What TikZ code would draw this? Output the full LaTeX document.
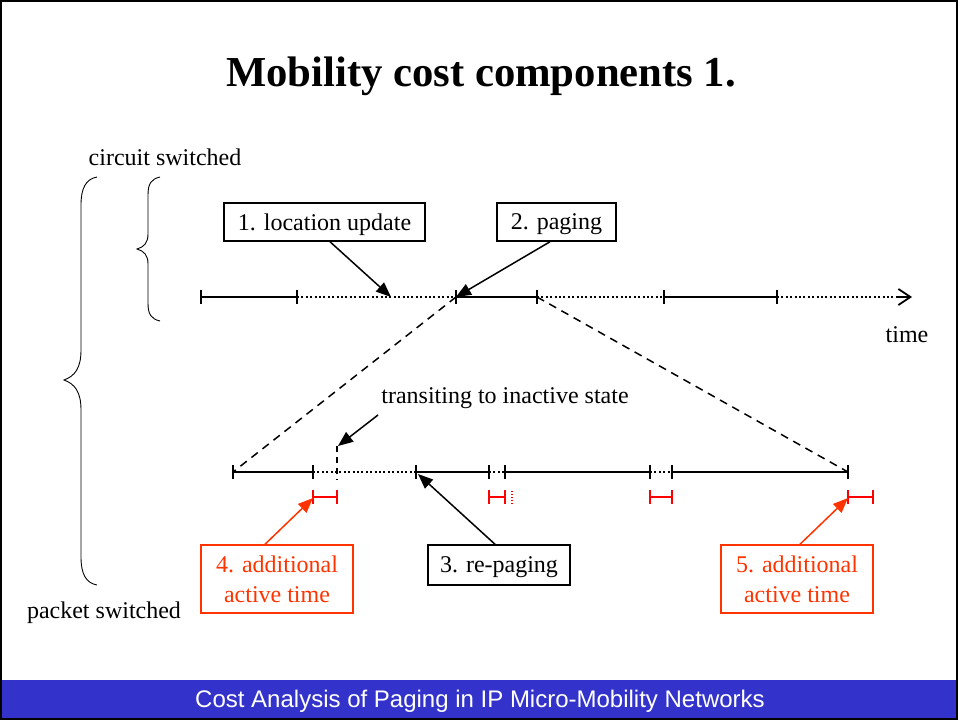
\documentclass[tikz,border=0pt]{standalone}
\usepackage{fontspec}
\setmainfont{Liberation Serif}
\newfontfamily\footfont{Liberation Sans}
\usetikzlibrary{arrows.meta}

\definecolor{barblue}{HTML}{3333CC}
\definecolor{notered}{HTML}{FF3300}
\definecolor{segred}{HTML}{FF0000}

\begin{document}
\begin{tikzpicture}[x=1pt,y=-1pt,
  every node/.style={font=\fontsize{24}{28}\selectfont, inner sep=0pt},
  seg/.style={line width=1.8pt},
  dotseg/.style={line width=1.8pt, dash pattern=on 2pt off 2.4pt},
  tickmark/.style={line width=1.8pt},
  zoomline/.style={line width=1.5pt, dash pattern=on 8pt off 6pt},
  callout/.style={draw, line width=1.5pt, align=center, text depth=0pt},
  pointer/.style={line width=1.5pt, -{Triangle[length=15pt,width=12pt]}},
  brace/.style={line width=0.9pt}
]
\useasboundingbox (0,0) rectangle (958,720);

% page frame and footer bar
\fill[barblue] (0,680) rectangle (958,720);
\draw[line width=2pt] (1,1) rectangle (957,719);
\node[text=white, font=\footfont\fontsize{24}{28}\selectfont] (footer) at (480,701)
  {Cost Analysis of Paging in IP Micro-Mobility Networks};

% title
\node[font=\fontsize{42.7}{48}\selectfont\bfseries] (title) at (481,76) {Mobility cost components 1.};

% side labels and braces
\node (cs) at (165,157) {circuit switched};
\node (ps) at (104,613) {packet switched};
\draw[brace] (160,177) .. controls (151,179) and (148,184) .. (148,195)
  -- (148,234) .. controls (148,243) and (144,247) .. (137,249)
  .. controls (144,251) and (148,255) .. (148,264)
  -- (148,303) .. controls (148,314) and (151,319) .. (160,321);
\draw[brace] (97,177) .. controls (86,179) and (81,188) .. (81,205)
  -- (81,350) .. controls (81,368) and (75,376) .. (64,380)
  .. controls (75,384) and (81,392) .. (81,410)
  -- (81,557) .. controls (81,574) and (86,583) .. (97,585);

% circuit-switched time line
\foreach \n/\x in {1/201,2/297,3/456,4/537,5/664,6/777}
  \coordinate (A\n) at (\x,297);
\coordinate (Aend) at (912,297);
\draw[seg] (A1) -- (A2);
\draw[dotseg] (A2) -- (A3);
\draw[seg] (A3) -- (A4);
\draw[dotseg] (A4) -- (A5);
\draw[seg] (A5) -- (A6);
\draw[dotseg] (A6) -- (Aend);
\draw[line width=1.8pt, -{Straight Barb[length=12pt,width=16pt]}] ([xshift=-14pt]Aend) -- (Aend);
\foreach \n in {1,...,6}
  \draw[tickmark] ([yshift=-7pt]A\n) -- ([yshift=7pt]A\n);
\node (time) at (907,335) {time};

% labels on the circuit-switched line
\node[callout, minimum width=201pt, minimum height=38pt] (lu) at (324.5,222) {1. location update};
\node[callout, minimum width=119pt, minimum height=38pt] (pg) at (556.5,222) {2. paging};
\coordinate (luhit) at (391,297);
\draw[pointer] ([xshift=5.5pt]lu.south) -- (luhit);
\draw[pointer] ([xshift=-6.5pt]pg.south) -- (A3);

% packet-switched time line
\foreach \n/\x in {1/233,2/313,3/416,4/489,5/505,6/650,7/672,8/848}
  \coordinate (B\n) at (\x,472);
\draw[zoomline] (A3) -- (B1);
\draw[zoomline] (A4) -- (B8);
\draw[seg] (B1) -- (B2);
\draw[dotseg] (B2) -- (B3);
\draw[seg] (B3) -- (B4);
\draw[dotseg] (B4) -- (B5);
\draw[seg] (B5) -- (B6);
\draw[dotseg] (B6) -- (B7);
\draw[seg] (B7) -- (B8);
\foreach \n in {1,...,8}
  \draw[tickmark] ([yshift=-7pt]B\n) -- ([yshift=7pt]B\n);

% moment of going inactive
\coordinate (inact) at (337,446);
\coordinate (inactlow) at (337,480);
\draw[line width=1.5pt, dash pattern=on 6pt off 5pt] (inact) -- (inactlow);
\node (tr) at (505,398) {transiting to inactive state};
\coordinate (trfoot) at (378,415);
\draw[pointer] (trfoot) -- ([xshift=1pt]inact);

% additional active periods
\foreach \n/\a/\b in {1/313/337,2/489/505,3/650/672,4/848/873}{
  \coordinate (R\n a) at (\a,497);
  \coordinate (R\n b) at (\b,497);
  \draw[segred, seg] (R\n a) -- (R\n b);
  \draw[segred, tickmark] ([yshift=-7pt]R\n a) -- ([yshift=7pt]R\n a);
  \draw[segred, tickmark] ([yshift=-7pt]R\n b) -- ([yshift=7pt]R\n b);
}
\coordinate (Rdot) at (512,497);
\draw[segred, line width=1.3pt, dash pattern=on 1.5pt off 1.5pt] ([yshift=-7pt]Rdot) -- ([yshift=7pt]Rdot);

% labels on the packet-switched line
\node[callout, minimum width=142pt, minimum height=40pt] (rp) at (499,565) {3. re-paging};
\draw[pointer] ([xshift=-4pt]rp.north) -- ([xshift=2pt,yshift=-2pt]B3);

\node[callout, draw=notered, text=notered, minimum width=152pt, minimum height=68pt] (at4) at (277,579)
  {4. additional\\[2pt]active time};
\draw[pointer, notered] ([xshift=-12pt]at4.north) -- ([yshift=-1pt]R1a);

\node[callout, draw=notered, text=notered, minimum width=152pt, minimum height=68pt] (at5) at (797,579)
  {5. additional\\[2pt]active time};
\draw[pointer, notered] ([xshift=3pt]at5.north) -- ([yshift=-1pt]R4a);
\end{tikzpicture}
\end{document}
